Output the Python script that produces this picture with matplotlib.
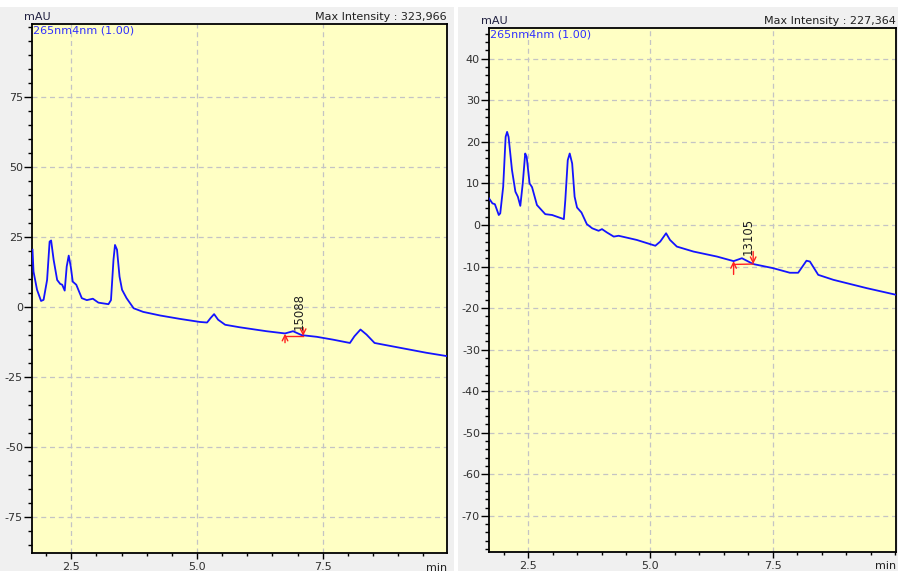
import matplotlib
matplotlib.use("Agg")
import matplotlib.pyplot as plt
from matplotlib.patches import Rectangle
from matplotlib.ticker import MultipleLocator, FixedLocator

plt.rcParams["axes.unicode_minus"] = False

# Data: left chromatogram (time in min, signal in mAU)
t1 = [1.73, 1.75, 1.82, 1.90, 1.95, 2.02, 2.07, 2.10, 2.15, 2.22, 2.28, 2.32, 2.37,
      2.41, 2.45, 2.49, 2.53, 2.60, 2.71, 2.81, 2.93, 3.04, 3.24, 3.29, 3.34, 3.37,
      3.41, 3.46, 3.51, 3.60, 3.74, 3.93, 4.27, 4.66, 5.06, 5.20, 5.27, 5.34, 5.42,
      5.56, 5.85, 6.38, 6.75, 6.91, 7.08, 7.38, 7.70, 8.04, 8.13, 8.25, 8.37, 8.53,
      9.03, 9.56, 9.97]
y1 = [20.4, 12.6, 6.1, 2.1, 2.5, 9.6, 23.3, 23.7, 16.8, 9.6, 8.2, 7.9, 5.8,
      14.4, 18.3, 14.4, 9.0, 7.9, 3.1, 2.4, 2.9, 1.5, 0.95, 2.4, 16.8, 22.1,
      20.4, 10.8, 6.1, 3.1, -0.5, -1.8, -3.1, -4.3, -5.4, -5.6, -4.0, -2.6, -4.6,
      -6.4, -7.3, -8.7, -9.5, -8.7, -10.1, -10.7, -11.7, -12.9, -10.5, -8.1, -9.9, -12.9,
      -14.6, -16.4, -17.6]

# Data: right chromatogram
t2 = [1.70, 1.77, 1.82, 1.90, 1.93, 1.99, 2.04, 2.07, 2.10, 2.17, 2.24, 2.29, 2.34,
      2.39, 2.44, 2.47, 2.53, 2.58, 2.68, 2.85, 2.99, 3.23, 3.26, 3.31, 3.35, 3.40,
      3.45, 3.50, 3.59, 3.70, 3.81, 3.94, 4.01, 4.11, 4.25, 4.35, 4.72, 5.10, 5.20,
      5.32, 5.40, 5.54, 5.88, 6.36, 6.70, 6.87, 7.10, 7.51, 7.85, 8.02, 8.19, 8.26,
      8.43, 8.74, 9.42, 10.02]
y2 = [6.4, 5.2, 5.0, 2.4, 2.8, 9.2, 21.2, 22.4, 21.2, 13.2, 8.0, 6.8, 4.6,
      10.0, 17.2, 16.4, 10.0, 9.1, 4.8, 2.6, 2.4, 1.4, 6.0, 15.6, 17.2, 14.8,
      6.8, 4.2, 3.0, 0.2, -0.8, -1.4, -1.0, -1.8, -2.8, -2.6, -3.6, -5.0, -4.0,
      -2.0, -3.6, -5.2, -6.4, -7.6, -8.7, -8.0, -9.4, -10.4, -11.5, -11.5, -8.6, -8.8,
      -12.0, -13.2, -15.2, -16.8]

# tick positions
xticks = [2.5, 5.0, 7.5]
yticks1 = [-75, -50, -25, 0, 25, 50, 75]
yticks2 = [-70, -60, -50, -40, -30, -20, -10, 0, 10, 20, 30, 40]

# integration (start, end) and area labels
peak1 = (6.75, -9.6, 7.11, -10.4)
peak2 = (6.70, -8.7, 7.10, -9.4)
area1 = "15088"
area2 = "13105"
max_int1 = "323,966"
max_int2 = "227,364"

W, H = 898, 571
fig = plt.figure(figsize=(W / 100, H / 100), dpi=100, facecolor="white")
gray = "#f0f0f0"
yellow = "#ffffc4"
fig.patches.append(Rectangle((0, 0), 454 / W, 564 / H, transform=fig.transFigure,
                             facecolor=gray, edgecolor="none", zorder=-10))
fig.patches.append(Rectangle((458 / W, 0), 440 / W, 564 / H, transform=fig.transFigure,
                             facecolor=gray, edgecolor="none", zorder=-10))

fs = 8


def panel(rect, t, y, ylim, xlim, yt, ymin, peak, area, mx):
    ax = fig.add_axes(rect)
    ax.set_facecolor(yellow)
    ax.plot(t, y, color="#1414ff", lw=1.3, zorder=3)
    ax.set_xlim(*xlim)
    ax.set_ylim(*ylim)
    ax.xaxis.set_major_locator(FixedLocator(xticks))
    ax.xaxis.set_minor_locator(MultipleLocator(0.5))
    ax.yaxis.set_major_locator(FixedLocator(yt))
    ax.yaxis.set_minor_locator(MultipleLocator(ymin))
    ax.xaxis.set_major_formatter(lambda v, p: f"{v:.1f}")
    ax.grid(True, which="major", color="#c4c4c4", ls=(0, (4, 3)), lw=0.9)
    ax.tick_params(axis="y", which="major", length=5.5, width=1, pad=1, labelsize=fs,
                   labelcolor="#303030")
    ax.tick_params(axis="y", which="minor", length=3, width=1)
    ax.tick_params(axis="x", which="major", length=4.5, width=1, pad=2, labelsize=fs,
                   labelcolor="#303030")
    ax.tick_params(axis="x", which="minor", length=2.5, width=1)
    for s in ax.spines.values():
        s.set_linewidth(1.3)
    # integration marks
    x0, b0, x1, b1 = peak
    red = "#ff2020"
    ax.plot([x0, x1], [b0 - 0.8, b1], color=red, lw=1, zorder=4)
    ax.annotate("", xy=(x0, b0), xytext=(x0, b0 - 3.2),
                arrowprops=dict(arrowstyle="->", color=red, lw=1, shrinkA=0, shrinkB=0))
    ax.annotate("", xy=(x1, b1), xytext=(x1, b1 + 3.0),
                arrowprops=dict(arrowstyle="->", color=red, lw=1, shrinkA=0, shrinkB=0))
    ax.text((x0 + x1) / 2 + 0.1, b0 + 1.5, area, rotation=90, fontsize=fs + 0.5,
            ha="center", va="bottom", color="#202020")
    ax.text(0.003, 0.997, "265nm4nm (1.00)", transform=ax.transAxes, color="#3030ff",
            fontsize=fs, ha="left", va="top")
    ax.text(1.0, 1.004, "Max Intensity : " + mx, transform=ax.transAxes, fontsize=fs,
            ha="right", va="bottom", color="#202020")
    ax.text(0.013, 1.004, "mAU", transform=ax.transAxes, fontsize=fs, ha="center",
            va="bottom", color="#202040")
    ax.text(1.0, -0.018, "min", transform=ax.transAxes, fontsize=fs, ha="right",
            va="top", color="#202020")
    return ax


panel([32 / W, 18 / H, 415 / W, 529 / H], t1, y1, (-87.9, 101), (1.72, 9.97),
      yticks1, 5, peak1, area1, max_int1)
panel([489 / W, 19 / H, 407 / W, 524 / H], t2, y2, (-78.7, 47.4), (1.70, 10.02),
      yticks2, 2, peak2, area2, max_int2)

fig.savefig("out.png", dpi=100, facecolor=fig.get_facecolor())
